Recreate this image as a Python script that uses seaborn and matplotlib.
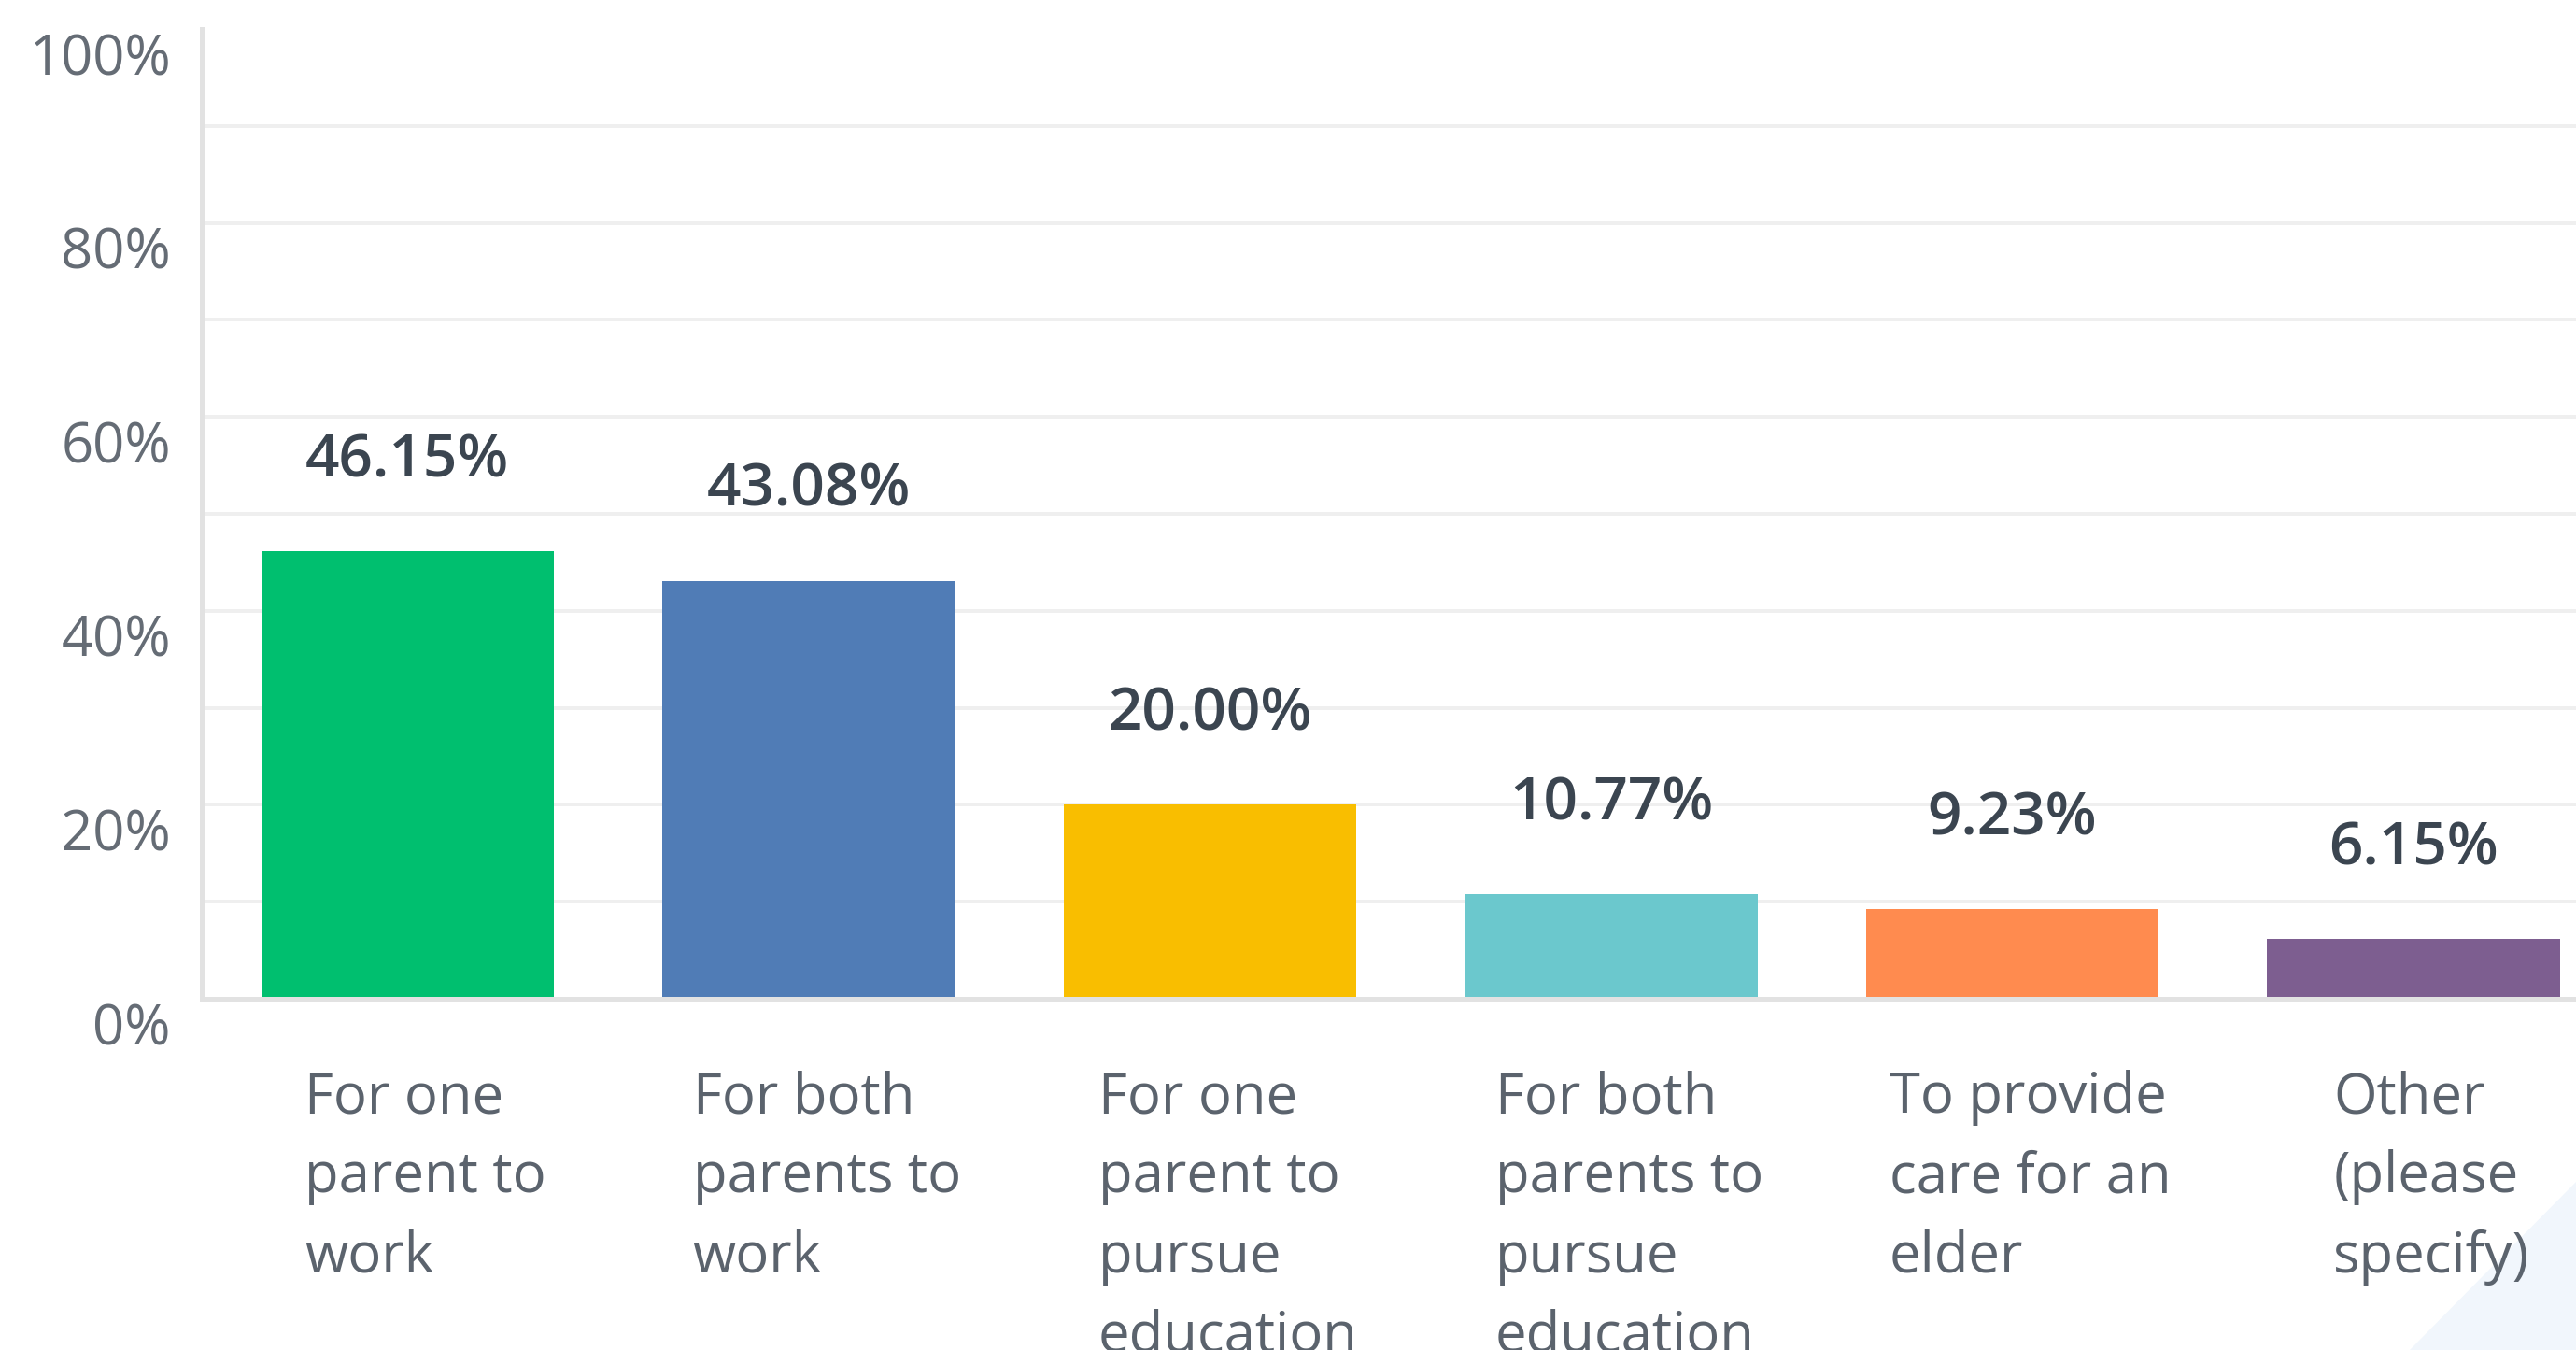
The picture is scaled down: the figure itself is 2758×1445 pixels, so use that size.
import numpy as np
import pandas as pd
import matplotlib.pyplot as plt
import matplotlib.transforms as mtransforms
from matplotlib.patches import Polygon
import seaborn as sns

CATEGORIES = [
    "For one\nparent to\nwork",
    "For both\nparents to\nwork",
    "For one\nparent to\npursue\neducation",
    "For both\nparents to\npursue\neducation",
    "To provide\ncare for an\nelder",
    "Other\n(please\nspecify)",
]
VALUES = [46.15, 43.08, 20.00, 10.77, 9.23, 6.15]
COLORS = ["#00BF6F", "#507CB6", "#F9BE00", "#6BC8CD", "#FF8B4F", "#7D5E90"]
Y_TICKS = [0, 20, 40, 60, 80, 100]
Y_MINOR = [10, 30, 50, 70, 90]

DPI = 100
PT = 72 / DPI  # points per pixel

sns.set_theme(style="white")
plt.rcParams["font.family"] = ["Open Sans", "DejaVu Sans"]

fig = plt.figure(figsize=(27.58, 14.45), dpi=DPI, facecolor="white")
ax = fig.add_axes([0.0783, 0.2602, 0.9217, 0.7183])

df = pd.DataFrame({"category": CATEGORIES, "percent": VALUES})
sns.barplot(data=df, x="category", y="percent", hue="category", palette=COLORS,
            legend=False, saturation=1, width=0.73, linewidth=0, edgecolor="none", ax=ax)

ax.set_xlim(-0.513, 5.405)
ax.set_ylim(0, 100)
ax.set_xlabel("")
ax.set_ylabel("")

# y axis: labels every 20%, gridlines every 10%
ax.set_yticks(Y_TICKS)
ax.set_yticks(Y_MINOR, minor=True)
ax.tick_params(axis="both", which="both", length=0)
ax.tick_params(axis="y", pad=33 * PT, labelsize=43, labelcolor="#656c75")
ax.set_yticklabels([f"{t}%" for t in Y_TICKS], va="baseline")
ydown = mtransforms.ScaledTranslation(0, -49 / DPI, fig.dpi_scale_trans)
for lab in ax.get_yticklabels():
    lab.set_transform(lab.get_transform() + ydown)

ax.set_axisbelow(True)
ax.grid(True, axis="y", which="both", color="#efefef", linewidth=4 * PT)
ax.grid(False, axis="x")
ax.yaxis.get_major_ticks()[-1].gridline.set_visible(False)

for side in ["top", "right"]:
    ax.spines[side].set_visible(False)
for side in ["left", "bottom"]:
    ax.spines[side].set_color("#e2e2e2")
    ax.spines[side].set_linewidth(5 * PT)

# x category labels (multi-line, left aligned block)
ax.set_xticks(range(len(CATEGORIES)))
ax.set_xticklabels([])
xdown = mtransforms.ScaledTranslation(0, -76 / DPI, fig.dpi_scale_trans)
for i, lab in enumerate(CATEGORIES):
    ax.text(i + 0.045, 0, lab, transform=ax.get_xaxis_transform() + xdown,
            ha="center", va="top", multialignment="left",
            fontsize=43, color="#5b636d", linespacing=1.55)

# value labels above bars
for i, v in enumerate(VALUES):
    ax.annotate(f"{v:.2f}%", xy=(i, v), xytext=(0, 80 * PT), textcoords="offset points",
                ha="center", va="baseline", fontsize=46, fontweight="semibold",
                color="#3b4550")

# faint page corner decoration
tri = Polygon([[2580 / 2758, 0], [1, 0], [1, (1445 - 1265) / 1445]], closed=True,
              transform=fig.transFigure, facecolor="#f1f6fc", edgecolor="none", zorder=-1)
fig.add_artist(tri)

fig.savefig("out.png", dpi=DPI, facecolor="white")
